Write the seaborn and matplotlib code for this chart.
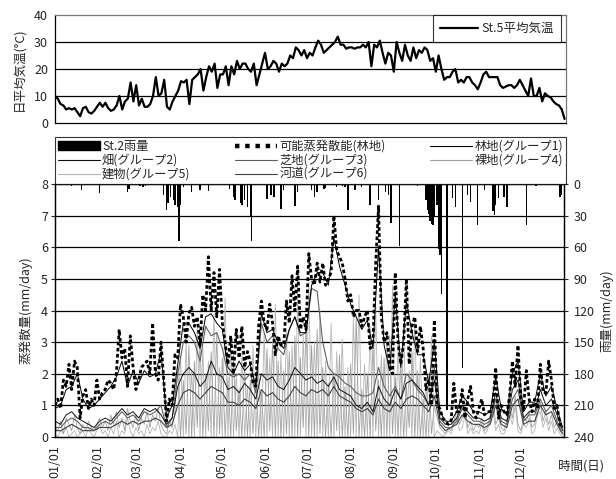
import numpy as np
import pandas as pd
import matplotlib
matplotlib.use("Agg")
import matplotlib.pyplot as plt
import seaborn as sns
from matplotlib.patches import Patch
from matplotlib.lines import Line2D

# ---------------- data ----------------
month_labels = ["01/01", "02/01", "03/01", "04/01", "05/01", "06/01",
                "07/01", "08/01", "09/01", "10/01", "11/01", "12/01"]
month_days = [0, 31, 59, 90, 120, 151, 181, 212, 243, 273, 304, 334]

# St.5 daily mean temperature, every 2nd day (deg C)
temp = [10, 9, 7, 6.5, 5, 5.5, 5, 5.5, 4, 2.5,
        5.5, 6, 4, 3.5, 4.5, 6, 7.5, 6, 7.5, 5.5,
        4.5, 5, 6.5, 10, 5, 8, 9, 15, 8, 14,
        6.5, 9, 6, 6, 7, 10, 17, 10, 11, 16,
        6, 5, 8, 10, 12, 15.5, 15, 16, 7, 16,
        17, 18, 20, 12, 17, 21, 19, 22, 13, 18,
        18, 21, 14, 21, 18, 23, 20, 22, 22, 20,
        19, 22, 14, 18, 22, 26, 20, 21, 23, 22,
        19, 22, 21, 22, 25, 24, 28, 27, 25, 27,
        24, 26, 25, 28, 30.5, 29, 26, 27, 28, 29,
        30, 32, 29, 29, 27.5, 28, 28, 27.5, 28, 28,
        29, 28, 30, 21, 29, 28, 30.5, 26, 22, 26,
        25, 19, 30, 26, 23, 29, 25, 23, 28, 24,
        27, 26, 28, 27, 23, 24, 19, 25, 20, 16,
        17, 17, 19, 20, 15, 16, 15, 17, 17, 15,
        14, 12.5, 15, 18, 19, 17, 17, 17, 17, 14,
        13, 13.5, 14, 14, 13, 14, 16, 14, 12, 10,
        16.5, 10, 10, 13, 8, 11, 10, 9.5, 8, 7,
        6.5, 5, 1.5]

# potential evapotranspiration (forest), every 2nd day (mm/day)
pet = [1.0, 1.2, 0.9, 1.8, 1.6, 2.3, 1.5, 2.4, 2.2, 0.6,
       1.3, 1.5, 0.9, 1.2, 1.0, 1.8, 1.2, 1.4, 1.5, 1.8,
       1.7, 1.5, 2.0, 3.4, 2.5, 2.8, 1.6, 3.2, 2.2, 1.5,
       1.8, 2.2, 2.3, 2.4, 2.0, 3.6, 2.0, 1.8, 3.0, 1.8,
       0.5, 1.2, 1.0, 2.6, 2.5, 4.2, 3.8, 3.0, 3.9, 4.1,
       3.5, 3.8, 2.9, 4.5, 4.0, 5.7, 4.0, 5.2, 3.8, 5.3,
       3.6, 3.0, 2.3, 3.2, 2.0, 3.4, 2.5, 3.5, 2.2, 2.7,
       2.4, 1.7, 1.6, 3.5, 4.3, 3.6, 3.4, 4.2, 3.6, 2.6,
       3.2, 2.9, 2.9, 4.3, 3.6, 5.1, 4.0, 5.4, 3.4, 3.8,
       3.4, 5.8, 5.0, 4.8, 5.5, 4.9, 5.5, 4.8, 5.0, 5.2,
       7.0, 5.9, 5.7, 5.5, 5.0, 4.3, 4.5, 3.8, 4.0, 4.0,
       3.5, 3.8, 4.0, 2.8, 3.0, 5.5, 7.3, 3.8, 3.0, 3.3,
       2.2, 2.0, 5.2, 3.0, 2.3, 3.0, 5.0, 2.3, 3.5, 3.8,
       2.7, 3.5, 2.8, 1.5, 1.8, 1.0, 3.7, 1.0, 0.9, 0.6,
       0.5, 0.4, 0.5, 1.7, 0.8, 0.8, 1.5, 0.6, 1.2, 1.6,
       0.8, 0.6, 0.9, 1.2, 0.7, 0.8, 0.8, 1.0, 2.2, 0.6,
       1.0, 0.8, 0.7, 1.3, 2.4, 1.6, 2.9, 1.2, 0.9, 2.1,
       1.2, 0.8, 1.2, 0.9, 2.3, 1.4, 1.4, 2.4, 1.8, 0.9,
       1.0, 0.4, 0.3]

# group evapotranspiration, every 4th day (mm/day)
g1_forest = [0.9, 1.0, 1.5, 1.6, 2.0, 1.2, 0.9, 1.0, 1.2, 1.4,
             1.6, 1.9, 2.4, 1.6, 2.1, 1.7, 2.1, 1.9, 2.0, 2.7,
             0.6, 1.0, 2.3, 3.6, 3.6, 3.3, 2.8, 3.8, 3.9, 3.6,
             3.4, 2.2, 2.0, 2.4, 2.1, 2.3, 1.6, 3.9, 3.3, 3.4,
             3.0, 2.8, 3.4, 3.8, 3.3, 3.3, 4.8, 5.2, 5.2, 4.8,
             6.3, 5.4, 4.8, 4.2, 3.8, 3.4, 3.7, 2.8, 6.0, 2.9,
             2.1, 4.5, 2.2, 4.3, 3.3, 2.6, 2.6, 1.7, 3.0, 0.8,
             0.5, 0.5, 0.8, 1.3, 1.1, 0.8, 0.8, 0.7, 0.8, 1.9,
             0.9, 0.7, 2.0, 2.4, 0.8, 1.1, 1.1, 2.0, 1.3, 1.6,
             0.9, 0.3]
g2_field = [0.5, 0.4, 0.7, 0.8, 0.6, 0.5, 0.4, 0.3, 0.5, 0.6,
            0.5, 0.7, 0.9, 0.7, 0.8, 0.6, 0.9, 0.8, 0.9, 0.7,
            0.4, 0.6, 1.6, 2.0, 2.2, 2.0, 1.6, 1.8, 2.4, 2.0,
            1.9, 1.5, 1.6, 1.4, 1.7, 1.5, 1.2, 2.0, 1.8, 1.9,
            1.6, 1.5, 1.8, 2.2, 2.0, 1.8, 1.9, 1.7, 1.8, 1.6,
            1.9, 1.5, 1.4, 1.3, 1.0, 0.9, 1.1, 0.8, 1.6, 1.2,
            1.0, 1.5, 1.2, 1.7, 1.8, 1.6, 1.4, 1.0, 1.8, 0.6,
            0.4, 0.4, 0.6, 1.0, 0.8, 0.6, 0.6, 0.5, 0.6, 1.4,
            0.6, 0.5, 1.5, 1.8, 0.6, 0.8, 0.8, 1.5, 1.0, 1.2,
            0.7, 0.2]
g3_turf = [0.3, 0.3, 0.5, 0.6, 0.5, 0.3, 0.3, 0.2, 0.4, 0.5,
           0.4, 0.6, 0.8, 0.6, 0.7, 0.5, 0.8, 0.7, 0.8, 1.0,
           0.3, 0.6, 2.0, 3.0, 3.2, 3.0, 2.4, 3.5, 3.2, 3.3,
           2.8, 2.0, 1.9, 2.0, 1.8, 2.0, 1.4, 3.6, 3.0, 3.2,
           2.8, 2.6, 3.4, 3.8, 3.2, 3.3, 4.7, 4.6, 3.0, 2.2,
           2.0, 1.9, 1.7, 1.6, 1.4, 1.3, 1.3, 1.4, 2.2, 1.6,
           1.3, 1.6, 1.2, 2.0, 1.8, 1.5, 1.3, 1.0, 2.2, 0.5,
           0.3, 0.3, 0.5, 0.9, 0.7, 0.5, 0.5, 0.4, 0.5, 1.2,
           0.5, 0.4, 1.2, 1.5, 0.5, 0.7, 0.7, 1.2, 0.8, 1.0,
           0.5, 0.1]
g6_river = [0.2, 0.2, 0.3, 0.4, 0.3, 0.2, 0.2, 0.2, 0.3, 0.3,
            0.3, 0.4, 0.5, 0.4, 0.5, 0.4, 0.5, 0.5, 0.6, 0.5,
            0.3, 0.4, 1.0, 1.4, 1.5, 1.4, 1.2, 1.4, 1.6, 1.5,
            1.4, 1.1, 1.1, 1.0, 1.2, 1.1, 0.9, 1.5, 1.3, 1.4,
            1.2, 1.1, 1.3, 1.6, 1.4, 1.3, 1.5, 1.4, 1.5, 1.3,
            1.6, 1.3, 1.2, 1.1, 0.9, 0.8, 0.9, 0.7, 1.2, 0.9,
            0.8, 1.1, 0.9, 1.2, 1.3, 1.2, 1.0, 0.8, 1.3, 0.4,
            0.2, 0.3, 0.4, 0.7, 0.5, 0.4, 0.4, 0.3, 0.4, 1.0,
            0.4, 0.3, 1.0, 1.2, 0.4, 0.5, 0.5, 1.0, 0.7, 0.8,
            0.4, 0.1]

# spiky groups, every 2nd day (mm/day)
g4_bare = [0.3, 0.2, 0.5, 0.1, 0.6, 0.4, 0.2, 0.7, 0.3, 0.1,
           0.4, 0.2, 0.5, 0.3, 0.2, 0.4, 0.6, 0.3, 0.5, 0.2,
           0.7, 0.4, 0.8, 0.3, 0.6, 0.2, 0.9, 0.5, 0.3, 0.7,
           0.2, 0.6, 0.4, 0.8, 0.3, 0.7, 0.5, 0.9, 0.4, 0.2,
           0.1, 0.5, 0.3, 0.8,
           2.2, 0.0, 1.8, 0.1, 2.9, 0.0, 2.4, 0.3, 3.1, 0.0,
           2.0, 0.2, 2.7, 0.0, 3.3, 0.1, 2.5, 0.0, 1.9, 0.0,
           2.6, 0.2, 1.5, 0.0, 2.3, 0.0, 1.8, 0.1, 2.0, 0.0,
           1.4, 0.0, 2.8, 0.2, 3.0, 0.0, 2.4, 0.0, 2.1, 0.1,
           2.7, 0.0, 3.2, 0.0, 2.5, 0.3, 3.6, 0.0, 2.9, 0.0,
           3.4, 0.1, 2.2, 0.0, 1.7, 0.0, 2.0, 0.2, 2.6, 0.0,
           1.6, 0.0, 2.3, 0.1, 3.8, 0.0, 1.5, 0.0, 2.0, 0.0,
           3.0, 0.2, 1.8, 0.0, 2.5, 0.0, 3.2, 0.1, 1.9, 0.0,
           2.4, 0.0, 1.6, 0.3, 2.7, 0.0, 2.1, 0.0, 1.2, 0.0,
           2.0, 0.1, 1.0,
           0.6, 0.3, 0.2, 0.1, 0.3, 0.2, 0.5, 0.8, 0.4, 0.6,
           0.9, 0.3, 0.5, 0.2, 0.4, 0.3, 0.6, 0.2, 0.3, 0.7,
           1.2, 0.4, 0.6, 0.3, 0.2, 0.5, 0.9, 0.6, 1.3, 0.4,
           0.2, 0.6, 0.5, 0.8, 0.3, 0.4, 0.9, 1.1, 0.5, 0.8,
           0.4, 0.7, 0.3, 0.5, 0.2, 0.1]
g5_building = [0.1, 0.0, 0.2, 0.1, 0.3, 0.0, 0.1, 0.2, 0.0, 0.1,
               0.2, 0.0, 0.3, 0.1, 0.0, 0.2, 0.4, 0.1, 0.2, 0.0,
               0.3, 0.1, 0.5, 0.0, 0.2, 0.1, 0.6, 0.2, 0.0, 0.3,
               0.1, 0.2, 0.0, 0.4, 0.1, 0.3, 0.2, 0.5, 0.1, 0.0,
               0.0, 0.2, 0.1, 0.4,
               0.0, 2.6, 0.0, 3.0, 0.0, 2.1, 0.0, 3.5, 0.0, 2.8,
               0.0, 2.4, 0.0, 3.9, 0.0, 2.2, 0.0, 4.4, 0.0, 3.1,
               0.0, 2.0, 0.0, 2.7, 0.0, 1.6, 0.0, 2.9, 0.0, 2.2,
               0.0, 3.3, 0.0, 2.5, 0.0, 4.2, 0.0, 2.6, 0.0, 3.4,
               0.0, 2.9, 0.0, 4.6, 0.0, 3.2, 0.0, 4.9, 0.0, 3.0,
               0.0, 4.0, 0.0, 2.4, 0.0, 3.6, 0.0, 2.7, 0.0, 3.1,
               0.0, 2.2, 0.0, 3.8, 0.0, 4.5, 0.0, 2.3, 0.0, 3.5,
               0.0, 4.1, 0.0, 2.6, 0.0, 3.3, 0.0, 4.8, 0.0, 2.9,
               0.0, 3.6, 0.0, 2.1, 0.0, 3.7, 0.0, 2.5, 0.0, 1.8,
               0.0, 3.2, 0.0,
               0.2, 0.1, 0.0, 0.1, 0.2, 0.1, 0.4, 0.6, 0.2, 0.3,
               0.7, 0.1, 0.3, 0.1, 0.2, 0.1, 0.4, 0.1, 0.2, 0.5,
               0.9, 0.2, 0.4, 0.1, 0.1, 0.3, 0.7, 0.4, 1.0, 0.2,
               0.1, 0.4, 0.3, 0.6, 0.1, 0.2, 0.7, 0.8, 0.3, 0.6,
               0.2, 0.5, 0.1, 0.3, 0.1, 0.0]

# St.2 daily rainfall (day of year, mm/day)
rain_days = [12, 19, 32, 52, 53, 61, 63, 65, 78, 80, 81, 83, 85, 86, 88, 89, 90, 92,
             98, 104, 110, 125, 128, 129, 133, 134, 136, 138, 140, 141, 152, 155, 157,
             162, 164, 172, 174, 184, 186, 188, 193, 194, 202, 206, 208, 210, 215, 220,
             226, 232, 237, 239, 241, 247, 260, 266, 267, 268, 269, 270, 271, 272, 274,
             275, 276, 277, 281, 285, 287, 292, 296, 298, 303, 308, 314, 315, 316, 318,
             322, 324, 338, 345, 362, 363]
rain_mm = [2, 6, 9, 8, 5, 2, 3, 2, 10, 25, 18, 12, 15, 20, 22, 54, 20, 3,
           8, 6, 7, 5, 12, 15, 18, 20, 15, 22, 30, 54, 14, 10, 12,
           24, 6, 21, 8, 6, 12, 8, 5, 4, 3, 2, 3, 25, 6, 3,
           20, 15, 8, 10, 37, 59, 2, 15, 25, 28, 35, 38, 39, 30, 20,
           62, 67, 104, 214, 13, 22, 175, 10, 17, 39, 6, 26, 29, 20, 13,
           12, 22, 39, 2, 12, 10]

# ---------------- style ----------------
sns.set_style("white")
plt.rcParams['font.family'] = ['Noto Sans CJK JP', 'DejaVu Sans']
plt.rcParams['axes.unicode_minus'] = False

fig = plt.figure(figsize=(6.16, 4.79), dpi=100)
W, H = 616, 479
ax_t = fig.add_axes([55 / W, 1 - 123 / H, 511 / W, 108 / H])
ax_b = fig.add_axes([55 / W, 1 - 437 / H, 509 / W, 253 / H])

def days_of(arr, step):
    return np.arange(len(arr)) * step

# ---------------- top panel ----------------
sns.lineplot(x=days_of(temp, 2), y=temp, ax=ax_t, color="black", lw=1.6,
             label="St.5平均気温")
ax_t.set_xlim(0, 365)
ax_t.set_ylim(0, 40)
ax_t.set_yticks([0, 10, 20, 30, 40])
ax_t.set_xticks([])
for yv in [10, 20, 30]:
    ax_t.axhline(yv, color="black", lw=0.9, zorder=0.5)
ax_t.set_ylabel("日平均気温(°C)", fontsize=9, labelpad=6)
ax_t.tick_params(axis="y", labelsize=9, length=3, width=0.8, direction="out", pad=2)
for s in ["left", "bottom"]:
    ax_t.spines[s].set_color("black")
for s in ["top", "right"]:
    ax_t.spines[s].set_color("#777777")
for s in ax_t.spines.values():
    s.set_linewidth(0.9)
leg_t = ax_t.legend(loc="upper right", bbox_to_anchor=(0.99, 1.0), fontsize=9,
                    frameon=True, fancybox=False, edgecolor="black",
                    handlelength=3.0, handletextpad=0.3, borderpad=0.55,
                    borderaxespad=0)
leg_t.get_frame().set_linewidth(0.8)

# ---------------- bottom panel ----------------
groups = [
    ("林地(グループ1)", g1_forest, 4, "black", 0.7),
    ("畑(グループ2)", g2_field, 4, "#111111", 0.7),
    ("芝地(グループ3)", g3_turf, 4, "#606060", 0.8),
    ("裸地(グループ4)", g4_bare, 2, "#a0a0a0", 0.6),
    ("建物(グループ5)", g5_building, 2, "#b4b4b4", 0.6),
    ("河道(グループ6)", g6_river, 4, "#404040", 0.8),
]
handles = {}
for name, vals, step, col, lw in [groups[4], groups[3], groups[5], groups[2],
                                  groups[1], groups[0]]:
    sns.lineplot(x=days_of(vals, step), y=vals, ax=ax_b, color=col, lw=lw,
                 label=name, zorder=2)
    handles[name] = Line2D([], [], color=col, lw=max(lw, 0.8))

sns.lineplot(x=days_of(pet, 2), y=pet, ax=ax_b, color="black", lw=2.0,
             linestyle=(0, (1.3, 0.9)), dash_capstyle="butt",
             label="可能蒸発散能(林地)", zorder=3)
handles["可能蒸発散能(林地)"] = Line2D([], [], color="black", lw=3.2,
                                  linestyle=(0, (1.0, 1.3)),
                                  dash_capstyle="butt")
ax_b.get_legend().remove()

ax_b.set_xlim(0, 365)
ax_b.set_ylim(0, 8)
ax_b.set_yticks(range(0, 9))
for yv in range(1, 8):
    ax_b.axhline(yv, color="black", lw=0.9, zorder=0.5)
ax_b.set_xticks(month_days)
ax_b.set_xticklabels(month_labels, rotation=90, fontsize=9)
ax_b.set_ylabel("蒸発散量(mm/day)", fontsize=9, labelpad=6)
ax_b.tick_params(axis="y", labelsize=9, length=3, width=0.8, pad=2)
ax_b.tick_params(axis="x", length=0, pad=6)
for s in ax_b.spines.values():
    s.set_color("black")
    s.set_linewidth(0.9)

# rainfall on inverted secondary axis
ax_r = ax_b.twinx()
ax_r.bar(rain_days, rain_mm, width=1.0, color="black", align="center",
         linewidth=0)
ax_r.set_ylim(240, 0)
ax_r.set_xlim(0, 365)
ax_r.set_yticks(range(0, 241, 30))
ax_r.tick_params(axis="y", labelsize=9, length=3, width=0.8, pad=4)
ax_r.set_ylabel("雨量(mm/day)", fontsize=9, labelpad=4)
for s in ax_r.spines.values():
    s.set_color("black")
    s.set_linewidth(0.9)
handles["St.2雨量"] = Patch(facecolor="black", edgecolor="black")

order = ["St.2雨量", "畑(グループ2)", "建物(グループ5)",
         "可能蒸発散能(林地)", "芝地(グループ3)", "河道(グループ6)",
         "林地(グループ1)", "裸地(グループ4)"]
leg_b = fig.legend([handles[k] for k in order], order, ncol=3,
                   loc="lower left",
                   bbox_to_anchor=(55 / W, 1 - 184 / H, 511 / W, 41 / H),
                   mode="expand", fontsize=8.8, frameon=True, fancybox=False,
                   edgecolor="black", handlelength=3.4, handletextpad=0.2,
                   labelspacing=0.08, borderpad=0.25, columnspacing=1.0,
                   borderaxespad=0)
leg_b.get_frame().set_linewidth(0.8)

fig.text(581 / W, 1 - 466 / H, "時間(日)", fontsize=9, ha="center", va="center")

fig.savefig("out.png", dpi=100)
